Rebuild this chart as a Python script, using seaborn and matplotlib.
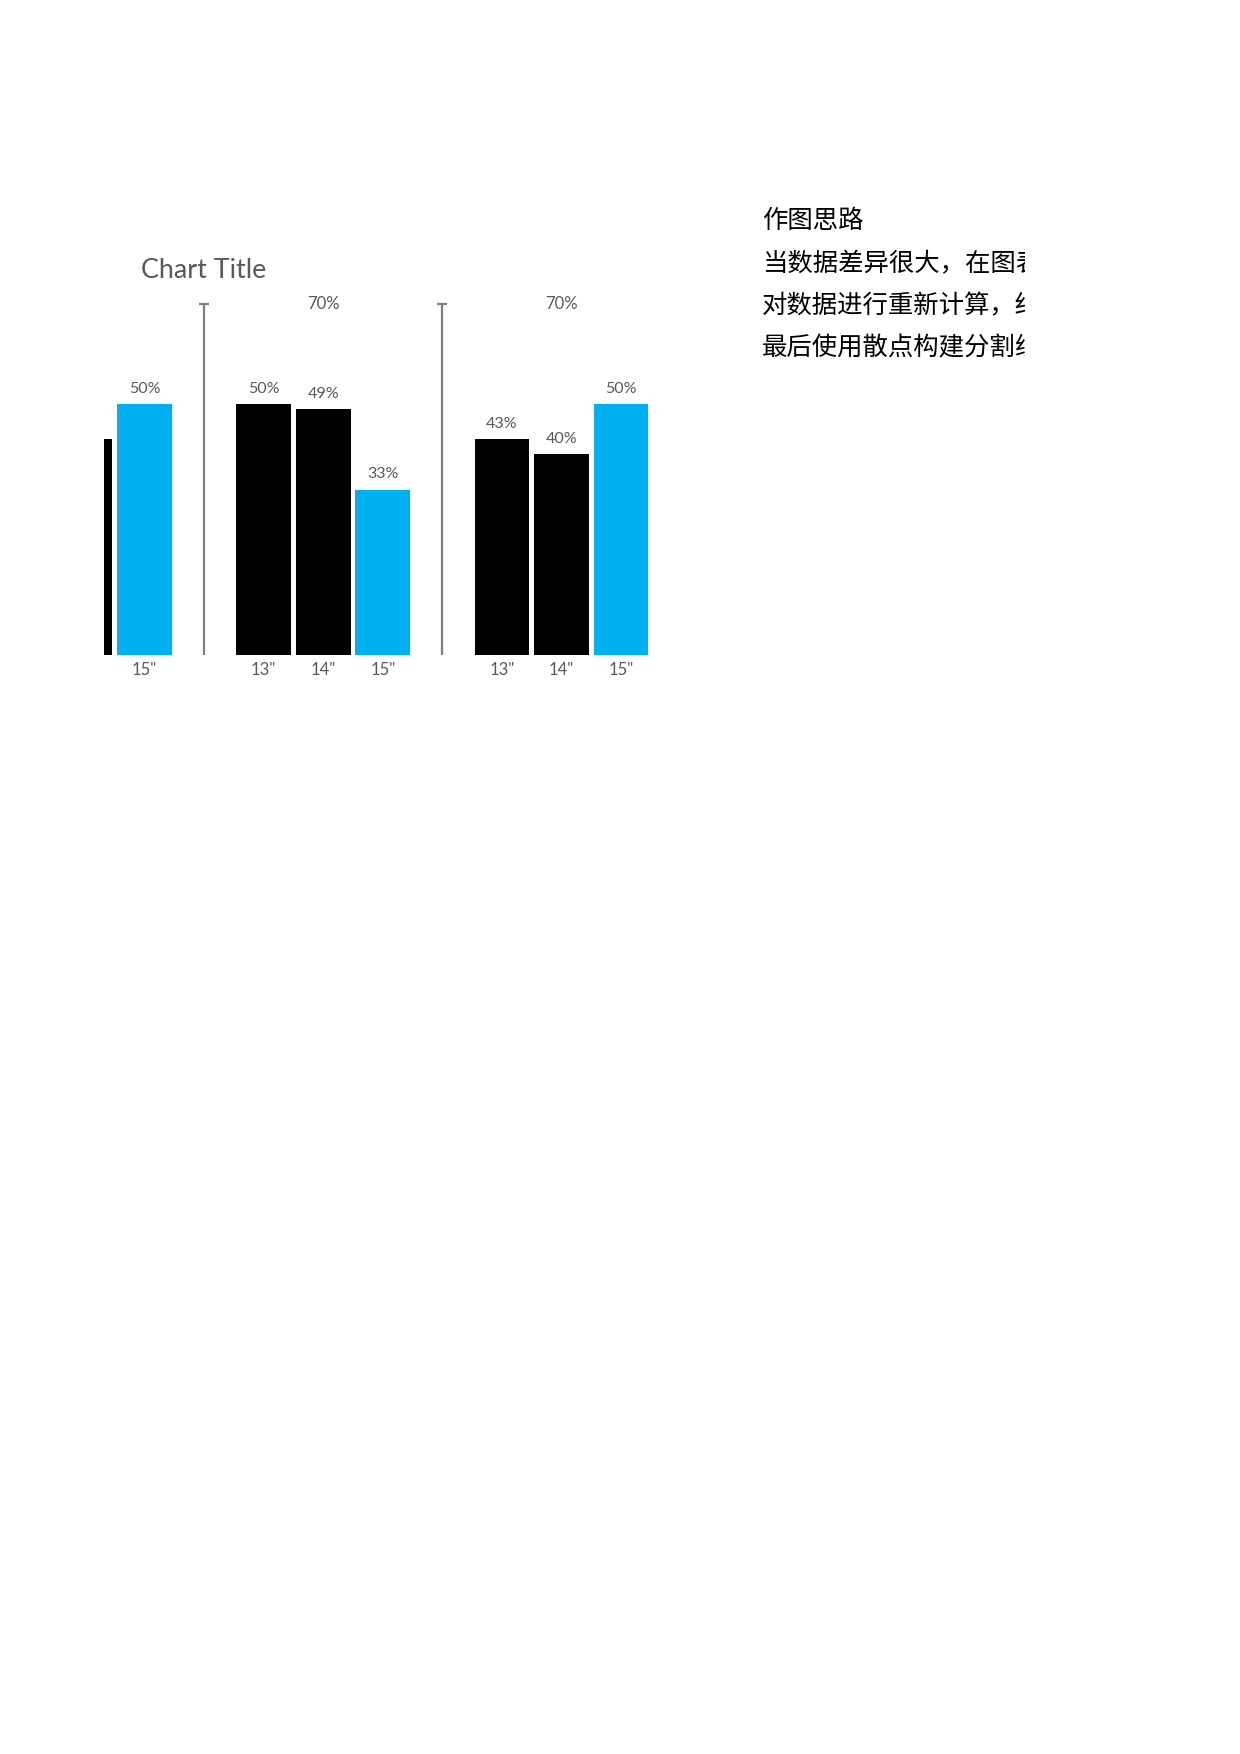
import matplotlib.pyplot as plt
import seaborn as sns
import pandas as pd

# bars sit on slots, the separators take a slot of their own
slot_pos = [0, 1, 3, 4, 5, 7, 8, 9]
sizes = ['14"', '15"', '13"', '14"', '15"', '13"', '14"', '15"']
values = [43, 50, 50, 49, 33, 43, 40, 50]
sep_pos = [2, 6]
sep_top = [70, 70]
top_label_pos = [4, 8]
notes = ["作图思路", "当数据差异很大，在图表", "对数据进行重新计算，结", "最后使用散点构建分割线"]

W, H = 1240, 1754
grey = "#595959"

sns.set_theme(style="white")
plt.rcParams['font.family'] = ['Lato', 'Noto Sans CJK SC', 'DejaVu Sans']

fig = plt.figure(figsize=(W / 100, H / 100), dpi=100)
fig.patch.set_facecolor("white")

# plot area in pixels
left, right = 104, 648
base, unit = 654.6, 5.003
ymax = 75
ax = fig.add_axes([left / W, (H - base) / H, (right - left) / W, ymax * unit / H])
ax.patch.set_alpha(0)

df = pd.DataFrame({"pos": slot_pos, "size": sizes, "value": values})
df["kind"] = ["hi" if s == '15"' else "lo" for s in sizes]

sns.barplot(data=df, x="pos", y="value", hue="kind", native_scale=True,
            palette={"lo": "#000000", "hi": "#00B0F0"}, saturation=1,
            width=0.92, dodge=False, legend=False, edgecolor="none", ax=ax)

for p, v in zip(slot_pos, values):
    ax.text(p, v + 3.0, f"{v}%", ha="center", va="center", fontsize=11.5,
            color=grey, clip_on=True)

# separators
ax.vlines(sep_pos, 0, sep_top, color="#7f7f7f", lw=1.6)
sns.scatterplot(x=sep_pos, y=sep_top, marker="_", s=50, color="#7f7f7f",
                linewidth=1.6, ax=ax, clip_on=False)
for p in top_label_pos:
    ax.text(p, 70, "70%", ha="center", va="center", fontsize=12, color=grey)

# the first bar is cut by the plot edge, so it gets no tick label
ax.set_xticks(slot_pos[1:], labels=sizes[1:])
ax.set_yticks([])
ax.set_xlim(0.32, 9.45)
ax.set_ylim(0, ymax)
ax.tick_params(axis="x", length=0, pad=5.5, labelsize=12, labelcolor=grey)
ax.set_xlabel("")
ax.set_ylabel("")
sns.despine(ax=ax, left=True, bottom=True)

fig.text(141 / W, 1 - 270 / H, "Chart Title", fontsize=19.4, color=grey,
         ha="left", va="center")

# notes on the right, cut off at the page edge
tx0, tx1, ty0, ty1 = 762, 1025, 190, 380
tax = fig.add_axes([tx0 / W, (H - ty1) / H, (tx1 - tx0) / W, (ty1 - ty0) / H])
tax.axis("off")
line_y = [221, 264, 306.5, 348]
for s, y in zip(notes, line_y):
    tax.text(tx0, H - y, s, transform=None, fontsize=18.3, color="#000000",
             ha="left", va="center", clip_on=True,
             family=['Noto Sans CJK SC', 'DejaVu Sans'])

fig.savefig("out.png", dpi=100)
